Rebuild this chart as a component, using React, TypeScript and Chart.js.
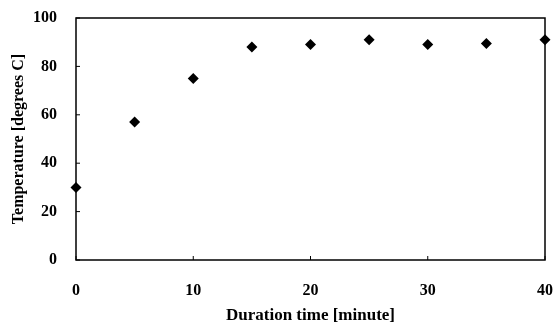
import React, { useEffect, useRef } from "react";
import { Chart, registerables } from "chart.js";

Chart.register(...registerables);

const durationMinutes = [0, 5, 10, 15, 20, 25, 30, 35, 40];
const temperatureC = [30, 57, 75, 88, 89, 91, 89, 89.5, 91];
const xTicks = [0, 10, 20, 30, 40];
const yTicks = [0, 20, 40, 60, 80, 100];

const FONT = "'Liberation Serif', 'Times New Roman', serif";

const frame = {
  id: "frame",
  afterDraw(chart: any) {
    const { ctx, chartArea: a, scales } = chart;
    ctx.save();
    ctx.strokeStyle = "#000";
    ctx.lineWidth = 1.5;
    ctx.strokeRect(a.left, a.top, a.right - a.left, a.bottom - a.top);
    ctx.lineWidth = 1;
    ctx.beginPath();
    for (const v of xTicks) {
      const x = scales.x.getPixelForValue(v);
      ctx.moveTo(x, a.bottom);
      ctx.lineTo(x, a.bottom - 4);
    }
    for (const v of yTicks) {
      const y = scales.y.getPixelForValue(v);
      ctx.moveTo(a.left, y);
      ctx.lineTo(a.left + 4, y);
    }
    ctx.stroke();
    ctx.restore();
  },
};

export default function App() {
  const ref = useRef<HTMLCanvasElement | null>(null);
  useEffect(() => {
    if (!ref.current) return;
    const chart = new Chart(ref.current, {
      type: "scatter",
      data: {
        datasets: [
          {
            data: durationMinutes.map((x, i) => ({ x, y: temperatureC[i] })),
            pointStyle: "rectRot",
            pointRadius: 5.5,
            backgroundColor: "#000",
            borderColor: "#000",
            borderWidth: 0,
            clip: false as any,
          },
        ],
      },
      options: {
        animation: false,
        responsive: false,
        layout: { padding: { left: 0, right: 12, top: 18, bottom: 0 } },
        plugins: { legend: { display: false }, tooltip: { enabled: false } },
        scales: {
          x: {
            type: "linear",
            min: 0,
            max: 40,
            afterFit: (s: any) => {
              s.height = 66;
              s.paddingLeft = 0;
              s.paddingRight = 0;
            },
            afterBuildTicks: (s: any) => {
              s.ticks = xTicks.map((v) => ({ value: v }));
            },
            grid: { display: false },
            border: { display: false },
            ticks: {
              padding: 13,
              color: "#000",
              font: { family: FONT, size: 16, weight: "bold" },
            },
            title: {
              display: true,
              text: "Duration time [minute]",
              color: "#000",
              padding: { top: 0, bottom: 0 },
              font: { family: FONT, size: 17, weight: "bold" },
            },
          },
          y: {
            type: "linear",
            min: 0,
            max: 100,
            afterFit: (s: any) => {
              s.width = 76;
              s.paddingTop = 0;
              s.paddingBottom = 0;
            },
            afterBuildTicks: (s: any) => {
              s.ticks = yTicks.map((v) => ({ value: v }));
            },
            grid: { display: false },
            border: { display: false },
            ticks: {
              padding: 11,
              color: "#000",
              font: { family: FONT, size: 16, weight: "bold" },
            },
            title: {
              display: true,
              text: "Temperature [degrees C]",
              color: "#000",
              padding: { top: 9, bottom: 0 },
              font: { family: FONT, size: 16, weight: "bold" },
            },
          },
        },
      },
      plugins: [frame],
    });
    return () => chart.destroy();
  }, []);
  return (
    <div style={{ position: "fixed", left: 0, top: 0, width: 557, height: 326, background: "#fff" }}>
      <canvas ref={ref} width={557} height={326} />
    </div>
  );
}
